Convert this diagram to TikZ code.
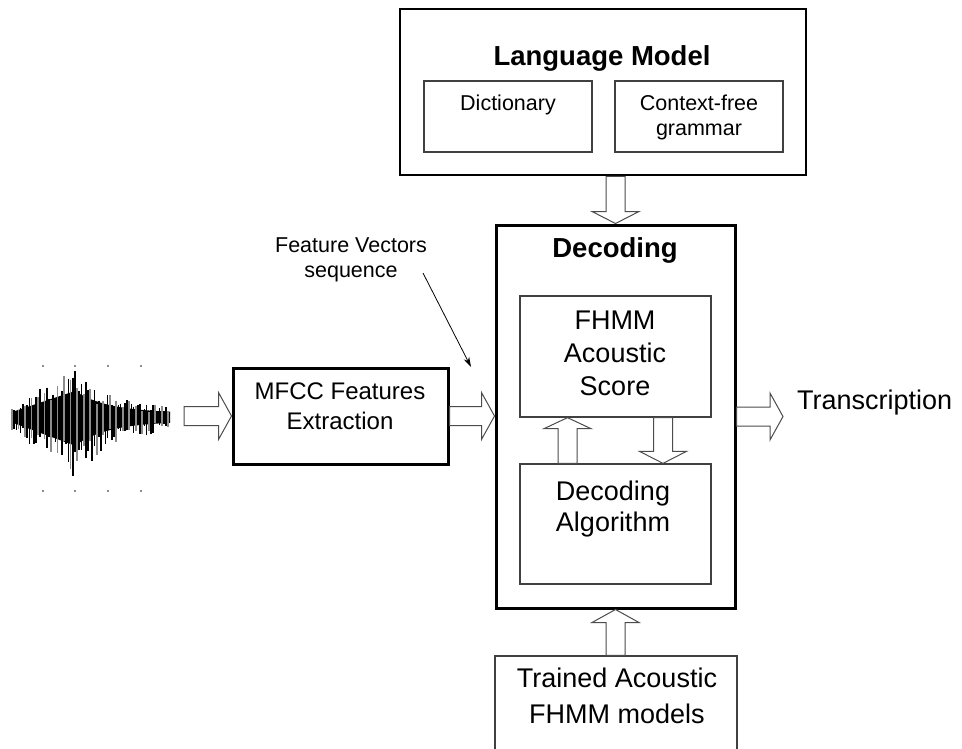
\documentclass[tikz,border=0pt]{standalone}
\usepackage{fontspec}
\setmainfont{Liberation Sans}
\usetikzlibrary{calc,arrows.meta}

% hollow block arrow pointing right: from #1 to #2 (height taken from #1)
\newcommand\fatright[2]{\draw[fat] let \p1=#1, \p2=#2 in
  (\x1,\y1+9.5pt) -- (\x2-13pt,\y1+9.5pt) -- (\x2-13pt,\y1+23.5pt) -- (\x2,\y1)
  -- (\x2-13pt,\y1-23.5pt) -- (\x2-13pt,\y1-9.5pt) -- (\x1,\y1-9.5pt) -- cycle;}
% hollow block arrow, vertical: from #1 to #2, #3 = signed head length
\newcommand\fatvert[3]{\draw[fat] let \p1=#1, \p2=#2 in
  (\x1+9.5pt,\y1) -- (\x1+9.5pt,{\y2+(#3)}) -- (\x1+23.5pt,{\y2+(#3)}) -- (\x1,\y2)
  -- (\x1-23.5pt,{\y2+(#3)}) -- (\x1-9.5pt,{\y2+(#3)}) -- (\x1-9.5pt,\y1) -- cycle;}

\begin{document}
\begin{tikzpicture}[x=1pt,y=-1pt,
  thickbox/.style={draw=black, line width=2.7pt, inner sep=0pt},
  thinbox/.style={draw=black!75, line width=1.3pt, inner sep=0pt},
  fat/.style={draw=black!70, fill=white, line width=1pt, line join=miter},
  txt/.style={inner sep=0pt, anchor=base, align=center},
  big/.style={font=\fontsize{27}{33}\selectfont},
  mid/.style={font=\fontsize{24}{30}\selectfont},
  small/.style={font=\fontsize{21.5}{24.5}\selectfont},
  head/.style={font=\fontsize{27.5}{32}\selectfont\bfseries}]
\clip (0,0) rectangle (962,748);

% ---- speech waveform ----
\begin{scope}
  \fill[black] plot[domain=12:170,samples=80]
      (\x,{417-0.5*(\x<75 ? 10+42*(\x-12)/63 : 8+44*exp(-(\x-75)/34))})
    -- plot[domain=170:12,samples=80]
      (\x,{417+0.55*(\x<75 ? 10+42*(\x-12)/63 : 8+44*exp(-(\x-75)/34))}) -- cycle;
  \pgfmathsetseed{11}
  \foreach \i in {0,...,72} {
    \pgfmathsetmacro\xx{12+\i*2.17}
    \pgfmathsetmacro\env{\xx<75 ? 10+42*(\xx-12)/63 : 8+44*exp(-(\xx-75)/34)}
    \pgfmathsetmacro\up{\env*(0.4+0.6*rnd)}
    \pgfmathsetmacro\dn{1.35*\env*(0.35+0.65*rnd)}
    \pgfmathtruncatemacro\kind{mod(\i,3)}
    \ifnum\kind=0
      \draw[black!45, line width=1.8pt] (\xx,417-\up) -- (\xx,417+\dn);
    \else
      \draw[black, line width=1.6pt] (\xx,417-\up) -- (\xx,417+\dn);
    \fi
  }
  \foreach \tx in {43,75,108,141} {
    \fill[black!45] (\tx-1,365) rectangle (\tx+1,367);
    \fill[black!45] (\tx-1,490) rectangle (\tx+1,492);
  }
\end{scope}
\coordinate (wave) at (184,416);

% ---- blocks ----
\node[thickbox, minimum width=406pt, minimum height=166pt] (lm) at (603,92) {};
\node[txt, head] (lmt) at (602,65) {Language Model};
\node[thinbox, minimum width=168pt, minimum height=71pt] (dict) at (508,116.5) {};
\node[txt, small] (dictt) at (508,110) {Dictionary};
\node[thinbox, minimum width=168pt, minimum height=71pt] (cfg) at (699,116.5) {};
\node[txt, small] (cfgt) at (699,135) {Context-free\\grammar};

\node[thickbox, line width=3pt, minimum width=239pt, minimum height=383pt] (dec) at (615.5,416.5) {};
\node[txt, head] (dect) at (615,257) {Decoding};
\node[thinbox, minimum width=191pt, minimum height=121pt] (fhmm) at (615.5,356.5) {};
\node[txt, big] (fhmmt) at (615,395) {FHMM\\Acoustic\\Score};
\node[thinbox, minimum width=191pt, minimum height=120pt] (alg) at (615.5,524) {};
\node[txt, big, font=\fontsize{27}{31}\selectfont] (algt) at (613,531) {Decoding\\Algorithm};

\node[thickbox, line width=3pt, minimum width=215pt, minimum height=96pt] (mfcc) at (340.5,416) {};
\node[txt, mid] (mfcct) at (340,429) {MFCC Features\\Extraction};

\node[thinbox, minimum width=242pt, minimum height=114pt] (trained) at (616,713) {};
\node[txt, big, font=\fontsize{27}{36}\selectfont] (trainedt) at (617,723) {Trained Acoustic\\FHMM models};

\node[txt, big, anchor=base west] (trans) at (797,409) {Transcription};
\node[txt, small] (fv) at (351,277) {Feature Vectors\\sequence};

% ---- connectors ----
\fatright{(wave)}{(mfcc.west)}
\fatright{(mfcc.east)}{(dec.west)}
\fatright{(dec.east)}{($(trans.west |- dec.east)+(-14pt,0)$)}
\fatvert{(lm.south -| dec.north)}{(dec.north)}{12pt}
\fatvert{($(alg.north)+(-48pt,0)$)}{($(fhmm.south)+(-48pt,0)$)}{-11pt}
\fatvert{($(fhmm.south)+(47.5pt,0)$)}{($(alg.north)+(47.5pt,0)$)}{12pt}
\fatvert{(trained.north -| dec.south)}{(dec.south)}{-13pt}

\coordinate (fvtail) at (423,273);
\coordinate (fvtip) at (471,367);
\draw[line width=0.8pt, -{Stealth[length=10pt,width=6pt]}] (fvtail) -- (fvtip);
\end{tikzpicture}
\end{document}
